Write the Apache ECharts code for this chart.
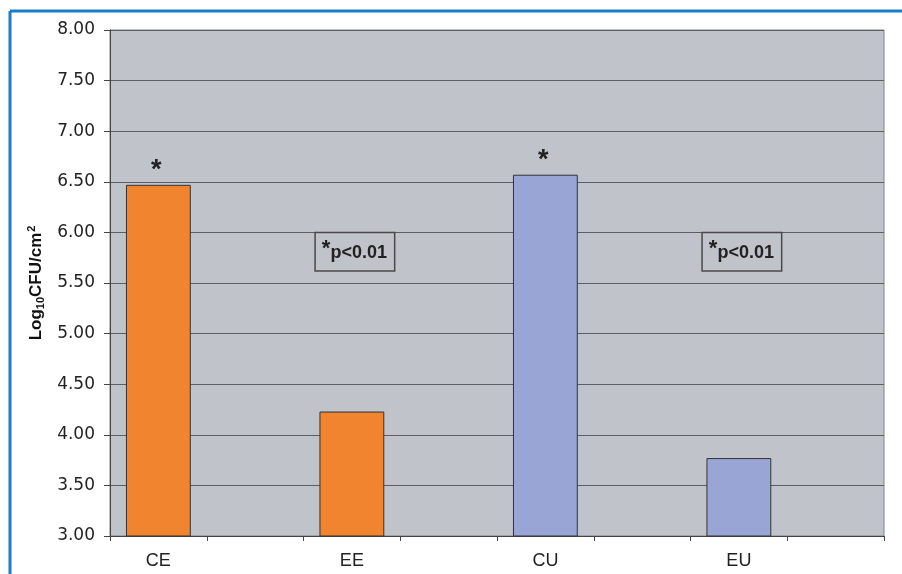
<!DOCTYPE html>
<html>
<head>
<meta charset="utf-8">
<script src="https://cdn.jsdelivr.net/npm/echarts@6/dist/echarts.min.js"></script>
<style>
  html, body { margin: 0; padding: 0; background: #fff; }
  #chart { width: 902px; height: 574px; }
</style>
</head>
<body>
<div id="chart"></div>
<script>
// 8 slots on the axis, every other one empty (as in the original sheet)
const categories = ['CE', '', 'EE', '', 'CU', '', 'EU', '']
const values = [6.47, null, 4.23, null, 6.57, null, 3.77, null]
const barColors = ['#f0842f', null, '#f0842f', null, '#99a5d4', null, '#99a5d4', null]
const starred = [true, false, false, false, true, false, false, false]
const noteSlots = [2, 6]
const noteLevel = 5.81

const chart = echarts.init(document.getElementById('chart'), null, { renderer: 'canvas' })

const fontFam = '"Liberation Sans", Arial, sans-serif'
const tickFont = '"DejaVu Sans", sans-serif'

const barData = values.map(function (v, i) {
  if (v === null) return null
  return {
    value: v,
    itemStyle: { color: barColors[i] },
    label: { show: starred[i] }
  }
})

const option = {
  animation: false,
  textStyle: { fontFamily: fontFam },
  graphic: [
    { type: 'line', shape: { x1: 10, y1: 11, x2: 902, y2: 11 }, style: { stroke: '#1a7dc6', lineWidth: 3 } },
    { type: 'line', shape: { x1: 10, y1: 11, x2: 10, y2: 574 }, style: { stroke: '#1a7dc6', lineWidth: 3 } }
  ],
  grid: {
    left: 110, right: 18, top: 30, bottom: 38,
    show: true,
    backgroundColor: '#c0c3ca',
    borderColor: '#7f8185',
    borderWidth: 1
  },
  xAxis: {
    type: 'category',
    data: categories,
    axisLine: { lineStyle: { color: '#444', width: 1 } },
    axisTick: { show: true, interval: 0, length: 5, lineStyle: { color: '#444' } },
    axisLabel: { interval: 0, color: '#222', fontSize: 18, margin: 16, fontFamily: fontFam }
  },
  yAxis: {
    type: 'value',
    min: 3,
    max: 8,
    interval: 0.5,
    name: '{a|Log}{s|10}{a|CFU/cm}{p|2}',
    nameLocation: 'middle',
    nameGap: 64,
    nameRotate: 90,
    nameTextStyle: {
      rich: {
        a: { fontSize: 17, fontWeight: 'bold', color: '#111', fontFamily: fontFam },
        s: { fontSize: 11, fontWeight: 'bold', color: '#111', fontFamily: fontFam, verticalAlign: 'bottom', padding: [7, 0, 0, 0] },
        p: { fontSize: 11, fontWeight: 'bold', color: '#111', fontFamily: fontFam, verticalAlign: 'top', padding: [0, 0, 9, 1] }
      }
    },
    axisLine: { show: true, lineStyle: { color: '#444' } },
    axisTick: { show: true, length: 6, lineStyle: { color: '#444' } },
    axisLabel: {
      color: '#222', fontSize: 17, margin: 15, fontFamily: tickFont,
      formatter: function (v) { return v.toFixed(2) }
    },
    splitLine: { show: true, lineStyle: { color: '#5c5e62', width: 1 } }
  },
  series: [{
    type: 'bar',
    data: barData,
    barWidth: '67%',
    itemStyle: { borderColor: '#333', borderWidth: 1 },
    label: {
      show: false,
      position: 'top',
      formatter: '*',
      fontSize: 27,
      fontWeight: 'bold',
      fontFamily: fontFam,
      color: '#222',
      distance: 1,
      offset: [-2, 0]
    },
    markPoint: {
      symbol: 'rect',
      symbolSize: 1,
      itemStyle: { color: 'rgba(0,0,0,0)' },
      label: {
        show: true,
        position: 'inside',
        offset: [3, 0],
        formatter: '{st|*}{t|p<0.01}',
        backgroundColor: '#c0c3ca',
        borderColor: '#4a4a4a',
        borderWidth: 1.5,
        padding: [5, 7, 3, 6],
        rich: {
          st: { fontSize: 22, fontWeight: 'bold', fontFamily: fontFam, color: '#222', verticalAlign: 'top', padding: [0, 0, 7, 0] },
          t: { fontSize: 18, fontWeight: 'bold', fontFamily: fontFam, color: '#222' }
        }
      },
      data: noteSlots.map(function (i) { return { coord: [i, noteLevel] } })
    }
  }]
}

chart.setOption(option)
</script>
</body>
</html>
